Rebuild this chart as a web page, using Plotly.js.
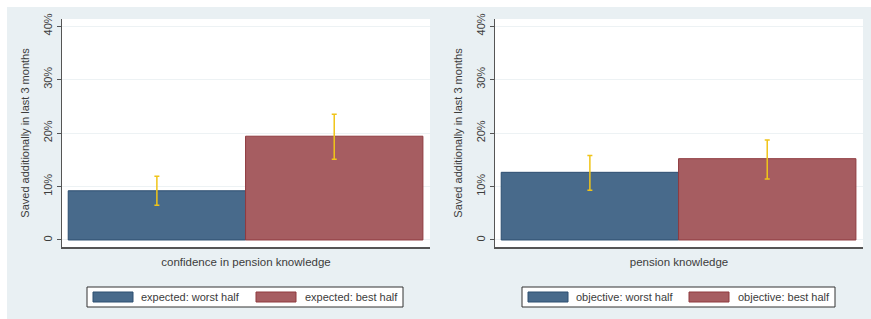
<!DOCTYPE html>
<html>
<head>
<meta charset="utf-8">
<script src="https://cdn.plot.ly/plotly-3.0.1.min.js"></script>
<style>html,body{margin:0;padding:0;background:#fff;}#chart{width:871px;height:319px;}</style>
</head>
<body>
<div id="chart"></div>
<script>
// ---- data ----
const categories = ["worst half", "best half"];
const leftLabels = ["expected: worst half", "expected: best half"];
const rightLabels = ["objective: worst half", "objective: best half"];
const leftValues = [9.2, 19.4];
const leftUpper = [11.9, 23.5];
const leftLower = [6.5, 15.1];
const rightValues = [12.65, 15.2];
const rightUpper = [15.8, 18.7];
const rightLower = [9.3, 11.4];
const yTickVals = [0, 10, 20, 30, 40];
const yTickText = ["0", "10%", "20%", "30%", "40%"];
const yTitle = "Saved additionally in last 3 months";
const leftXTitle = "confidence in pension knowledge";
const rightXTitle = "pension knowledge";

// ---- styles ----
const W = 871, H = 319;
const colors = ["#486a8b", "#a65d61"];
const lineColors = ["#2d4e70", "#8f3a3f"];
const errColor = "#f0c419";
const font = {family: "Liberation Sans, Arial, sans-serif", size: 11, color: "#3c3c3c"};
const px = v => v / W;
const py = v => 1 - v / H;

const traces = [];
function addPanel(vals, up, lo, labels, xa, ya) {
  for (let i = 0; i < vals.length; i++) {
    traces.push({
      type: "bar",
      x: [categories[i]],
      y: [vals[i]],
      name: labels[i],
      xaxis: xa, yaxis: ya,
      width: 1,
      marker: {color: colors[i], line: {color: lineColors[i], width: 1}},
      error_y: {type: "data", symmetric: false, array: [up[i] - vals[i]], arrayminus: [vals[i] - lo[i]],
                color: errColor, thickness: 1.5, width: 2.5},
      showlegend: false,
      hoverinfo: "skip"
    });
  }
}
addPanel(leftValues, leftUpper, leftLower, leftLabels, "x", "y");
addPanel(rightValues, rightUpper, rightLower, rightLabels, "x2", "y2");

const yDomain = [py(247), py(19)];
function yAxis(anchor) {
  return {
    domain: yDomain, anchor: anchor,
    range: [-1.31, 41.31],
    tickvals: yTickVals, ticktext: yTickText,
    tickangle: -90,
    ticks: "outside", ticklen: 4, tickcolor: "#555", tickwidth: 1,
    showline: true, linecolor: "#555", linewidth: 1.5,
    showgrid: true, gridcolor: "#edf2f4", gridwidth: 1,
    zeroline: false,
    tickfont: font,
    title: {text: yTitle, font: font, standoff: 10}
  };
}
function xAxis(domain, anchor, title) {
  return {
    domain: domain, anchor: anchor,
    type: "category",
    categoryorder: "array", categoryarray: categories,
    range: [-0.535, 1.54],
    showticklabels: false, ticks: "",
    showline: true, linecolor: "#555", linewidth: 1.5,
    showgrid: false, zeroline: false,
    title: {text: title, font: {family: font.family, size: 11.5, color: font.color}, standoff: 10}
  };
}

const shapes = [
  {type: "rect", xref: "paper", yref: "paper", x0: 0, x1: px(7), y0: 0, y1: 1, fillcolor: "#ffffff", line: {width: 0}, layer: "below"},
  {type: "rect", xref: "paper", yref: "paper", x0: 0, x1: 1, y0: py(7), y1: 1, fillcolor: "#ffffff", line: {width: 0}, layer: "below"}
];
const annotations = [];
function addLegend(labels, boxX0, boxX1, swX, txtX) {
  shapes.push({type: "rect", xref: "paper", yref: "paper", x0: px(boxX0), x1: px(boxX1), y0: py(307), y1: py(287),
               fillcolor: "#ffffff", line: {color: "#333", width: 1}, layer: "above"});
  for (let i = 0; i < labels.length; i++) {
    shapes.push({type: "rect", xref: "paper", yref: "paper", x0: px(swX[i]), x1: px(swX[i] + 40), y0: py(302), y1: py(292),
                 fillcolor: colors[i], line: {color: lineColors[i], width: 1}, layer: "above"});
    annotations.push({xref: "paper", yref: "paper", x: px(txtX[i]), y: py(297), xanchor: "left", yanchor: "middle",
                      text: labels[i], showarrow: false, font: font});
  }
}
addLegend(leftLabels, 87, 403, [93, 256], [139, 303]);
addLegend(rightLabels, 522, 835, [528, 689], [574, 736]);

const layout = {
  width: W, height: H,
  margin: {l: 0, r: 0, t: 0, b: 0},
  paper_bgcolor: "#e9f0f3",
  plot_bgcolor: "#ffffff",
  font: font,
  barmode: "overlay",
  bargap: 0,
  showlegend: false,
  xaxis: xAxis([px(62), px(430)], "y", leftXTitle),
  yaxis: yAxis("x"),
  xaxis2: xAxis([px(495), px(863)], "y2", rightXTitle),
  yaxis2: yAxis("x2"),
  shapes: shapes,
  annotations: annotations
};

Plotly.newPlot("chart", traces, layout, {staticPlot: true, displayModeBar: false});
</script>
</body>
</html>
